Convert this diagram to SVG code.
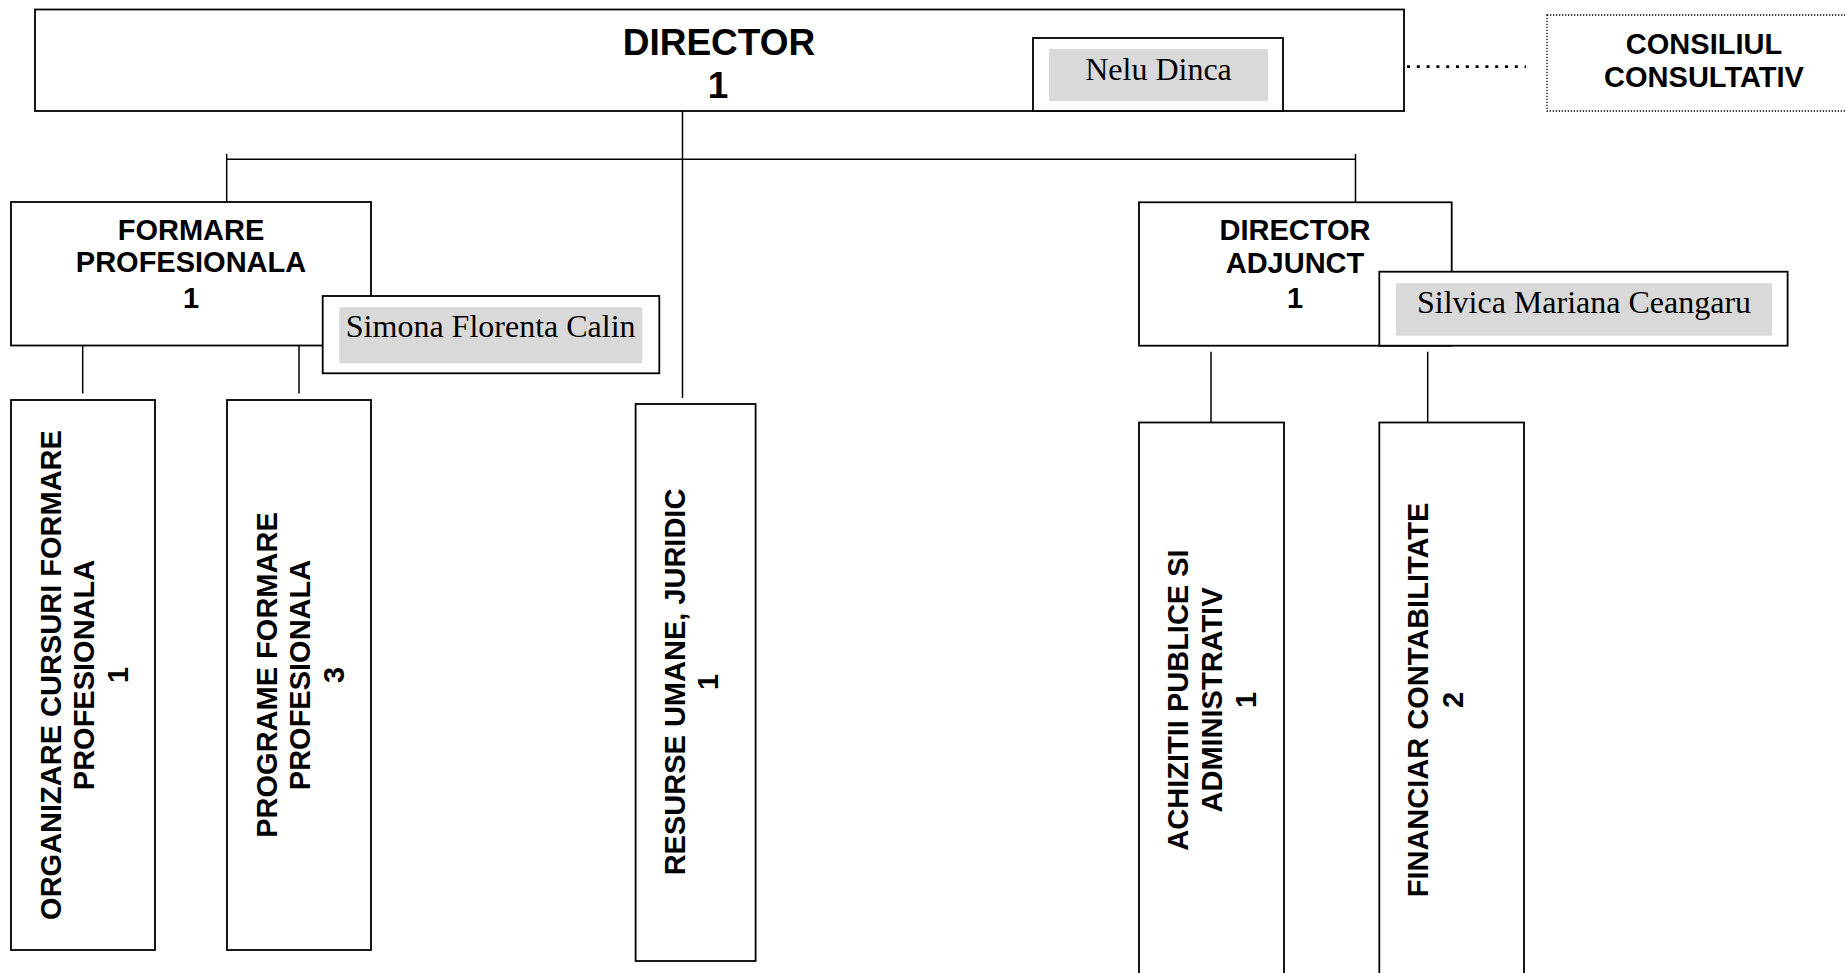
<svg xmlns="http://www.w3.org/2000/svg" width="1845" height="973" viewBox="0 0 1845 973">
<style>
.box{fill:#fff;stroke:#000;stroke-width:1.8}
.gray{fill:#d9d9d9;stroke:none}
.ln{stroke:#000;stroke-width:1.5;fill:none}
.dots{stroke:#000;stroke-width:2.7;stroke-dasharray:3 6.8;fill:none}
.dotbox{fill:#fff;stroke:#000;stroke-width:1.3;stroke-dasharray:1.3 1.7}
.b{font-family:"Liberation Sans",Arial,sans-serif;font-weight:bold;font-size:29px;fill:#000;text-anchor:middle}
.big{font-size:37px}
.n{font-family:"Liberation Serif","Times New Roman",serif;font-size:32px;fill:#000;text-anchor:middle}
</style>
<rect width="1845" height="973" fill="#fff"/>
<g id="connectors">
<line class="ln" x1="682.5" y1="111" x2="682.5" y2="398"/>
<line class="ln" x1="226.7" y1="159.3" x2="1355.5" y2="159.3"/>
<line class="ln" x1="226.7" y1="154" x2="226.7" y2="202"/>
<line class="ln" x1="1355.5" y1="154" x2="1355.5" y2="202"/>
<line class="ln" x1="82.7" y1="345" x2="82.7" y2="393.5"/>
<line class="ln" x1="299" y1="345" x2="299" y2="393.5"/>
<line class="ln" x1="1211" y1="351.7" x2="1211" y2="422.5"/>
<line class="ln" x1="1427.7" y1="351.7" x2="1427.7" y2="422.5"/>
<line class="dots" x1="1407" y1="66.7" x2="1526" y2="66.7"/>
</g>
<g id="director">
<rect class="box" x="35" y="9.5" width="1369" height="101.5"/>
<text class="b big" x="719" y="55">DIRECTOR</text>
<text class="b big" x="718" y="98">1</text>
</g>
<g id="director-nume">
<rect class="box" x="1033" y="38" width="250" height="73"/>
<rect class="gray" x="1049" y="49" width="219" height="52"/>
<text class="n" x="1158.5" y="80">Nelu Dinca</text>
</g>
<g id="consiliul">
<rect class="dotbox" x="1547" y="15" width="320" height="96"/>
<text class="b" x="1704" y="54.3">CONSILIUL</text>
<text class="b" x="1704" y="87.3">CONSULTATIV</text>
</g>
<g id="formare">
<rect class="box" x="11" y="202" width="360" height="143.5"/>
<text class="b" x="191" y="240">FORMARE</text>
<text class="b" x="191" y="272.3">PROFESIONALA</text>
<text class="b" x="191" y="308.3">1</text>
</g>
<g id="formare-nume">
<rect class="box" x="322.7" y="296" width="336.6" height="77.3"/>
<rect class="gray" x="339.3" y="307.3" width="303" height="56"/>
<text class="n" x="490.7" y="336.7">Simona Florenta Calin</text>
</g>
<g id="adjunct">
<rect class="box" x="1139" y="202.3" width="312.7" height="143.4"/>
<text class="b" x="1295" y="240">DIRECTOR</text>
<text class="b" x="1295" y="272.7">ADJUNCT</text>
<text class="b" x="1295" y="308.3">1</text>
</g>
<g id="adjunct-nume">
<rect class="box" x="1379.3" y="271.7" width="408.3" height="74"/>
<rect class="gray" x="1396" y="283.3" width="376" height="52.4"/>
<text class="n" x="1584" y="313.3">Silvica Mariana Ceangaru</text>
</g>
<g id="organizare">
<rect class="box" x="11" y="400" width="144" height="550"/>
<text class="b" transform="translate(60.5,675) rotate(-90)"><tspan x="0" y="0">ORGANIZARE CURSURI FORMARE</tspan><tspan x="0" y="33.5">PROFESIONALA</tspan><tspan x="0" y="67.5">1</tspan></text>
</g>
<g id="programe">
<rect class="box" x="227" y="400" width="144" height="550"/>
<text class="b" transform="translate(276.7,675) rotate(-90)"><tspan x="0" y="0">PROGRAME FORMARE</tspan><tspan x="0" y="33.8">PROFESIONALA</tspan><tspan x="0" y="67.8">3</tspan></text>
</g>
<g id="resurse">
<rect class="box" x="635.6" y="404" width="120" height="557"/>
<text class="b" transform="translate(685,682) rotate(-90)"><tspan x="0" y="0">RESURSE UMANE, JURIDIC</tspan><tspan x="0" y="32.5">1</tspan></text>
</g>
<g id="achizitii">
<rect class="box" x="1139" y="422.5" width="145" height="560"/>
<text class="b" transform="translate(1188.3,700) rotate(-90)"><tspan x="0" y="0">ACHIZITII PUBLICE SI</tspan><tspan x="0" y="34">ADMINISTRATIV</tspan><tspan x="0" y="68">1</tspan></text>
</g>
<g id="financiar">
<rect class="box" x="1379.3" y="422.5" width="144.7" height="560"/>
<text class="b" transform="translate(1428.3,700) rotate(-90)"><tspan x="0" y="0">FINANCIAR CONTABILITATE</tspan><tspan x="0" y="35">2</tspan></text>
</g>
</svg>
